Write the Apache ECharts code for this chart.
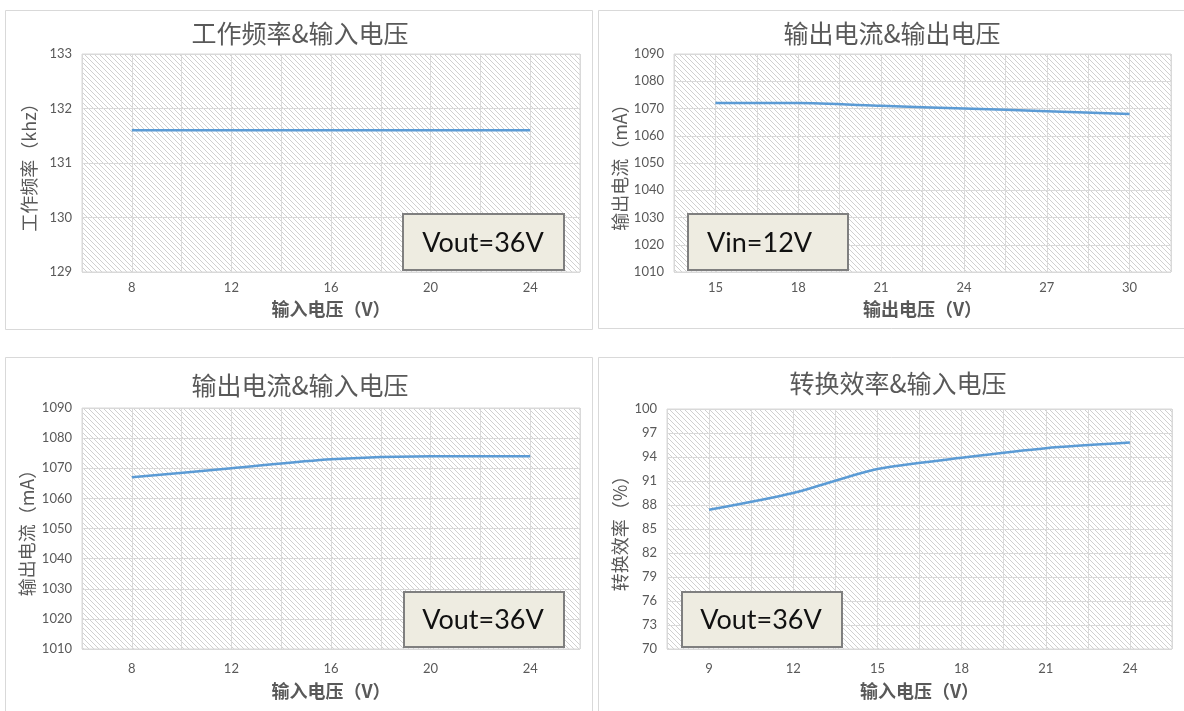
<!DOCTYPE html>
<html>
<head>
<meta charset="utf-8">
<script src="https://cdn.jsdelivr.net/npm/echarts@6/dist/echarts.min.js"></script>
<style>
html,body{margin:0;padding:0;background:#fff;}
#main{width:1184px;height:711px;}
</style>
</head>
<body>
<div id="main"></div>
<script>
// ---- Data ----
const titles = ['工作频率&输入电压', '输出电流&输出电压', '输出电流&输入电压', '转换效率&输入电压'];
const xNames = ['输入电压（V）', '输出电压（V）', '输入电压（V）', '输入电压（V）'];
const yNames = ['工作频率（khz）', '输出电流（mA）', '输出电流（mA）', '转换效率（%）'];
const notes = ['Vout=36V', 'Vin=12V', 'Vout=36V', 'Vout=36V'];

const freqVin = [8, 12, 16, 20, 24];
const freqKhz = [131.6, 131.6, 131.6, 131.6, 131.6];

const ioutVout = [15, 18, 21, 24, 27, 30];
const ioutVoutMa = [1072, 1072, 1071, 1070, 1069, 1068];

const ioutVin = [8, 12, 16, 20, 24];
const ioutVinMa = [1067, 1070, 1073, 1074, 1074];

const effVin = [9, 12, 15, 18, 21, 24];
const effPct = [87.4, 89.5, 92.5, 93.9, 95.1, 95.8];

const xTickLabels = [[8, 12, 16, 20, 24], [15, 18, 21, 24, 27, 30], [8, 12, 16, 20, 24], [9, 12, 15, 18, 21, 24]];

// ---- Hatch pattern ----
const hatch = document.createElement('canvas');
hatch.width = 5; hatch.height = 5;
const hctx = hatch.getContext('2d');
const img = hctx.createImageData(5, 5);
for (let y = 0; y < 5; y++) {
  for (let x = 0; x < 5; x++) {
    const i = (y * 5 + x) * 4;
    const on = ((x - y + 5) % 5) === 0;
    const c = on ? 208 : 255;
    img.data[i] = c; img.data[i + 1] = c; img.data[i + 2] = c; img.data[i + 3] = 255;
  }
}
hctx.putImageData(img, 0, 0);
const pattern = { image: hatch, repeat: 'repeat' };

const FONT = "Lato, 'Noto Sans CJK SC', sans-serif";
const CJK = "'Noto Sans CJK SC', sans-serif";
const GRAY = '#595959';
const GRID_LINE = '#d9d9d9';

const grids = [
  { left: 82, top: 54, width: 498, height: 218 },
  { left: 674, top: 54, width: 497, height: 218 },
  { left: 82, top: 408, width: 498, height: 241 },
  { left: 667, top: 409, width: 505, height: 240 }
].map(g => Object.assign(g, { show: true, backgroundColor: pattern, borderColor: GRID_LINE, borderWidth: 1 }));

const xRanges = [[6, 26, 2], [13.5, 31.5, 1.5], [6, 26, 2], [7.5, 25.5, 1.5]];
const yRanges = [[129, 133, 1], [1010, 1090, 10], [1010, 1090, 10], [70, 100, 3]];
const labelMargins = [9, 9, 13, 13];
const xNameGaps = [28, 28, 33, 33];
const yNameGaps = [44, 45, 46, 38];

const xAxis = xRanges.map((r, i) => ({
  type: 'value', gridIndex: i, min: r[0], max: r[1], interval: r[2],
  name: xNames[i], nameLocation: 'middle', nameGap: xNameGaps[i],
  nameTextStyle: { color: GRAY, fontSize: 18, fontWeight: 'bold', fontFamily: CJK },
  axisLine: { show: false }, axisTick: { show: false },
  axisLabel: {
    color: GRAY, fontSize: 13, fontFamily: FONT, margin: labelMargins[i],
    formatter: v => xTickLabels[i].indexOf(Math.round(v * 100) / 100) >= 0 ? String(v) : ''
  },
  splitLine: { show: true, lineStyle: { color: GRID_LINE, width: 1 } }
}));

const yAxis = yRanges.map((r, i) => ({
  type: 'value', gridIndex: i, min: r[0], max: r[1], interval: r[2],
  name: yNames[i], nameLocation: 'middle', nameGap: yNameGaps[i],
  nameTextStyle: { color: GRAY, fontSize: 18, fontFamily: CJK },
  axisLine: { show: false }, axisTick: { show: false },
  axisLabel: { color: GRAY, fontSize: 13, fontFamily: FONT, margin: 10, formatter: v => String(v) },
  splitLine: { show: true, lineStyle: { color: GRID_LINE, width: 1 } }
}));

const seriesData = [
  [freqVin, freqKhz], [ioutVout, ioutVoutMa], [ioutVin, ioutVinMa], [effVin, effPct]
];
const series = seriesData.map((d, i) => ({
  type: 'line', xAxisIndex: i, yAxisIndex: i,
  data: d[0].map((x, k) => [x, d[1][k]]),
  symbol: 'none', smooth: 0.25,
  lineStyle: { color: '#5b9bd5', width: 2.5 },
  z: 3
}));

// ---- Decorations (panel frames, titles, note boxes) ----
const panels = [
  { x: 5, y: 10, w: 587, h: 319 },
  { x: 598, y: 10, w: 600, h: 318 },
  { x: 5, y: 357, w: 587, h: 380 },
  { x: 598, y: 357, w: 600, h: 380 }
];
const titlePos = [[300, 33], [892, 33], [300, 385], [898, 383]];
const boxes = [
  { x: 403, y: 214, w: 161, h: 56, align: 'center', tx: 483 },
  { x: 688, y: 214, w: 160, h: 56, align: 'left', tx: 707 },
  { x: 404, y: 592, w: 160, h: 55, align: 'center', tx: 483 },
  { x: 682, y: 592, w: 160, h: 55, align: 'center', tx: 761 }
];

const graphic = [];
panels.forEach(p => graphic.push({
  type: 'rect', silent: true, z: -10,
  shape: { x: p.x + 0.5, y: p.y + 0.5, width: p.w, height: p.h },
  style: { fill: '#ffffff', stroke: '#d9d9d9', lineWidth: 1 }
}));
titles.forEach((t, i) => graphic.push({
  type: 'text', x: titlePos[i][0], y: titlePos[i][1], z: 10,
  style: { text: t, fill: GRAY, font: "25px 'Noto Sans CJK SC', sans-serif", textAlign: 'center', textVerticalAlign: 'middle' }
}));
boxes.forEach((b, i) => {
  graphic.push({
    type: 'rect', z: 50,
    shape: { x: b.x, y: b.y, width: b.w, height: b.h },
    style: { fill: '#eeece1', stroke: '#7f7f7f', lineWidth: 2 }
  });
  graphic.push({
    type: 'text', z: 51, x: b.tx, y: b.y + b.h / 2 + 1,
    style: { text: notes[i], fill: '#111111', font: "27px Lato, sans-serif", textAlign: b.align, textVerticalAlign: 'middle' }
  });
});

const chart = echarts.init(document.getElementById('main'), null, { renderer: 'canvas' });
chart.setOption({
  animation: false,
  backgroundColor: '#ffffff',
  grid: grids,
  xAxis: xAxis,
  yAxis: yAxis,
  series: series,
  graphic: graphic
});
</script>
</body>
</html>
